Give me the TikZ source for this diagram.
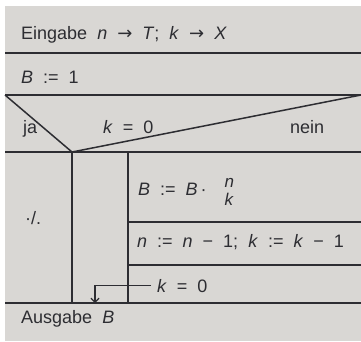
\documentclass[tikz,border=0pt]{standalone}
\usepackage{fontspec}
\setmainfont{Liberation Sans}
\newfontfamily\pfeilfont{DejaVu Sans}
\usetikzlibrary{arrows.meta}
\definecolor{papier}{RGB}{217,215,212}
\definecolor{tinte}{RGB}{45,45,50}
\newcommand{\pfeil}{{\pfeilfont →}}
\newcommand{\grundschrift}{\fontsize{18}{21}\selectfont\spaceskip 10pt plus 0pt minus 0pt\relax}
\newcommand{\bruchschrift}{\fontsize{17}{17}\selectfont}

\begin{document}
\begin{tikzpicture}[x=1pt, y=-1pt,
  linie/.style={tinte, line width=1.5pt},
  txt/.style={anchor=base west, inner sep=0pt, text=tinte, font={\grundschrift}}]
  \useasboundingbox (0,0) rectangle (361,341);
  \fill[papier] (5,6) rectangle (361,341);
  % Struktogramm
  \draw[linie] (5,53) -- (361,53);
  \draw[linie] (5,95) -- (361,95);
  \draw[linie] (5,95) -- (72,152) -- (361,95);
  \draw[linie] (5,152) -- (361,152);
  \draw[linie] (72,152) -- (72,303);
  \draw[linie] (128,152) -- (128,303);
  \draw[linie] (128,222) -- (361,222);
  \draw[linie] (128,265) -- (361,265);
  \draw[linie] (5,303) -- (361,303);
  % Texte
  \node[txt] (eingabe) at (21,39) {Eingabe \textit{n} \pfeil{} \textit{T}; \textit{k} \pfeil{} \textit{X}};
  \node[txt] (zuweisung) at (21,83) {\textit{B} := 1};
  \node[txt] (ja) at (23,133) {ja};
  \node[txt] (bedingung) at (103,133) {\textit{k} = 0};
  \node[txt] (nein) at (290,133) {nein};
  \node[txt] (leer) at (25,224) {·/.};
  \node[txt] (multipl) at (138,195) {\textit{B} := \textit{B}\,·\hspace{18pt}\makebox[0pt][l]{\raisebox{8pt}{\bruchschrift\textit{n}}}\raisebox{-10pt}{\bruchschrift\textit{k}}};
  \node[txt] (dekrement) at (137,247) {\textit{n} := \textit{n} − 1; \textit{k} := \textit{k} − 1};
  \node[txt] (kend) at (157,292) {\textit{k} = 0};
  \node[txt] (ausgabe) at (21,323) {Ausgabe \textit{B}};
  % Ruecksprung
  \coordinate (ziel) at (95,303);
  \draw[tinte, line width=1.2pt, -{Straight Barb[length=4pt,width=8pt]}] ([xshift=-6pt]kend.west) -| (ziel);
\end{tikzpicture}
\end{document}
